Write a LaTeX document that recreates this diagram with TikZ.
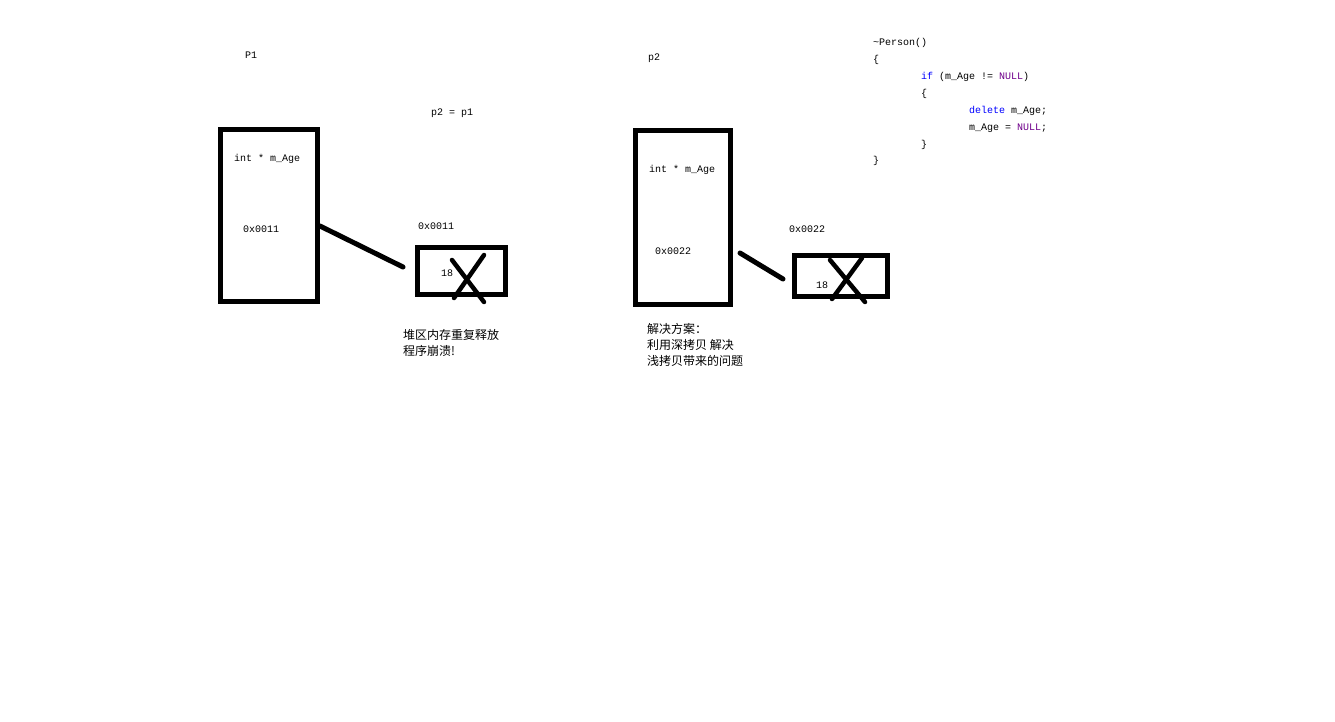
\documentclass[tikz,border=0pt]{standalone}
\usepackage{fontspec}
\usepackage{tikz}
\usetikzlibrary{positioning,calc}
\setmainfont{Liberation Mono}
\newfontfamily\codefont{Liberation Mono}
\newfontfamily\cjk{Noto Sans CJK SC}
\definecolor{kwblue}{RGB}{0,0,255}
\definecolor{nullpurple}{RGB}{111,0,138}

\begin{document}
\begin{tikzpicture}[
    x=1pt, y=-1pt,
    membox/.style={rectangle, draw=black, line width=5pt, inner sep=0pt},
    link/.style={black, line width=5pt, line cap=round},
    cross/.style={black, line width=4.5pt, line cap=round},
    label/.style={font=\codefont\fontsize{10}{12}\selectfont, anchor=west, inner sep=0pt},
    note/.style={font=\cjk\fontsize{12}{16}\selectfont, anchor=north west, align=left, inner sep=0pt},
    code/.style={font=\codefont\fontsize{10}{12}\selectfont, anchor=west, inner sep=0pt},
]
\useasboundingbox (0,0) rectangle (1335,721);

% shallow copy: p1 and p2 share the same heap memory
\node[label] (p1name) at (245,55) {P1};
\node[label] (assign) at (431,113) {p2 = p1};
\node[membox, minimum width=97pt, minimum height=172.5pt] (p1box) at (269,215.25) {};
\node[label] (p1field) at (234,159) {int * m\_Age};
\node[label] (p1addr) at (243,229) {0x0011};
\node[membox, minimum width=88pt, minimum height=47pt] (heap1) at (461.5,271) {};
\node[label] (heap1addr) at (418,226) {0x0011};
\node[label] (heap1val) at (441,273) {18};
\coordinate (l1a) at (320,226);
\coordinate (l1b) at (403,267);
\draw[link] (l1a) -- (l1b);
\draw[cross] (452,260) -- (484,302);
\draw[cross] (484,255) -- (454,298);
\node[note] (crash) at (403,329) {堆区内存重复释放\\程序崩溃!};

% deep copy: p2 gets its own heap memory
\node[label] (p2name) at (648,58) {p2};
\node[membox, minimum width=95pt, minimum height=174pt] (p2box) at (683,217.5) {};
\node[label] (p2field) at (649,170) {int * m\_Age};
\node[label] (p2addr) at (655,251) {0x0022};
\node[membox, minimum width=93pt, minimum height=41pt] (heap2) at (841,276) {};
\node[label] (heap2addr) at (789,229) {0x0022};
\node[label] (heap2val) at (816,285) {18};
\coordinate (l2a) at (740,253);
\coordinate (l2b) at (783,279);
\draw[link] (l2a) -- (l2b);
\draw[cross] (830,260) -- (865,302);
\draw[cross] (862,258) -- (832,299);
\node[note] (fix) at (647,323) {解决方案：\\利用深拷贝 解决\\浅拷贝带来的问题};

% destructor
\node[code] (c1) at (873,43) {\textasciitilde Person()};
\node[code] (c2) at (873,60) {\{};
\node[code] (c3) at (921,77) {\textcolor{kwblue}{if} (m\_Age != \textcolor{nullpurple}{NULL})};
\node[code] (c4) at (921,94) {\{};
\node[code] (c5) at (969,111) {\textcolor{kwblue}{delete} m\_Age;};
\node[code] (c6) at (969,128) {m\_Age = \textcolor{nullpurple}{NULL};};
\node[code] (c7) at (921,145) {\}};
\node[code] (c8) at (873,161) {\}};
\end{tikzpicture}
\end{document}
